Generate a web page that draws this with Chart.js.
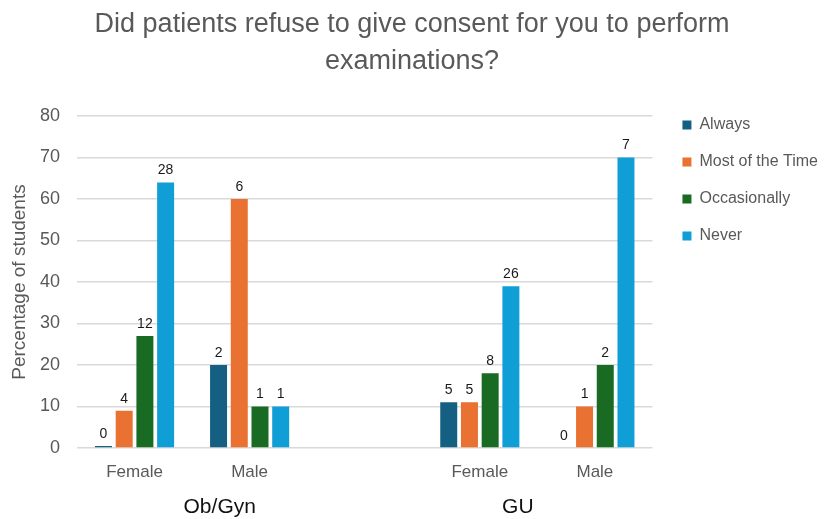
<!DOCTYPE html>
<html>
<head>
<meta charset="utf-8">
<script src="https://cdn.jsdelivr.net/npm/chart.js@4.4.1/dist/chart.umd.min.js"></script>
<style>
  html, body { margin: 0; padding: 0; background: #ffffff; }
</style>
</head>
<body>
<canvas id="consentChart" width="824" height="519"></canvas>
<script>
    const categories = ['Female', 'Male', '', 'Female', 'Male'];
    const groupNames = ['Ob/Gyn', 'GU'];
    const groupCentres = [0.74, 3.33];   // position on the category axis
    const seriesNames = ['Always', 'Most of the Time', 'Occasionally', 'Never'];
    const seriesColours = ['#156082', '#E97132', '#196B24', '#0F9ED5'];

    // percentage of students giving each answer
    const alwaysPct = [0.5, 20, null, 11, 0];
    const mostPct = [9, 60, null, 11, 10];
    const occasionallyPct = [27, 10, null, 18, 20];
    const neverPct = [64, 10, null, 39, 70];

    // number of students, printed above each bar
    const alwaysN = [0, 2, null, 5, 0];
    const mostN = [4, 6, null, 5, 1];
    const occasionallyN = [12, 1, null, 8, 2];
    const neverN = [28, 1, null, 26, 7];

    const yMin = 0, yMax = 80, yStep = 10;

    const pctSeries = [alwaysPct, mostPct, occasionallyPct, neverPct];
    const countSeries = [alwaysN, mostN, occasionallyN, neverN];

    const fontFamily = '"Liberation Sans", Arial, sans-serif';
    Chart.defaults.font.family = fontFamily;

    const countLabels = {
        id: 'countLabels',
        afterDatasetsDraw(chart) {
            const ctx = chart.ctx;
            ctx.save();
            ctx.font = '14px ' + fontFamily;
            ctx.fillStyle = '#1a1a1a';
            ctx.textAlign = 'center';
            ctx.textBaseline = 'bottom';
            chart.data.datasets.forEach((ds, di) => {
                chart.getDatasetMeta(di).data.forEach((bar, i) => {
                    const n = ds.counts[i];
                    if (n === null || n === undefined) return;
                    ctx.fillText(String(n), bar.x, bar.y - 5);
                });
            });
            ctx.restore();
        }
    };

    const groupLabels = {
        id: 'groupLabels',
        afterDraw(chart) {
            const xs = chart.scales.x;
            const ctx = chart.ctx;
            ctx.save();
            ctx.font = '21px ' + fontFamily;
            ctx.fillStyle = '#111111';
            ctx.textAlign = 'center';
            ctx.textBaseline = 'middle';
            groupNames.forEach((name, i) => {
                ctx.fillText(name, xs.getPixelForValue(groupCentres[i]), xs.top + 59);
            });
            ctx.restore();
        }
    };

    // push the legend a little right and up from where the layout leaves it
    const legendNudge = {
        id: 'legendNudge',
        afterLayout(chart) {
            const lg = chart.legend;
            lg.left += 9; lg.right += 9;
            lg.top -= 20; lg.bottom -= 20;
        }
    };

    new Chart(document.getElementById('consentChart'), {
        type: 'bar',
        data: {
            labels: categories,
            datasets: seriesNames.map((name, i) => ({
                label: name,
                data: pctSeries[i],
                counts: countSeries[i],
                backgroundColor: seriesColours[i],
                categoryPercentage: 0.72,
                barPercentage: 0.82
            }))
        },
        options: {
            responsive: false,
            animation: false,
            layout: { padding: { left: 5, right: 5, top: 0, bottom: 37 } },
            plugins: {
                title: {
                    display: true,
                    text: ['Did patients refuse to give consent for you to perform', 'examinations?'],
                    color: '#595959',
                    font: { size: 27, weight: 'normal', lineHeight: 1.37 },
                    padding: { top: 6, bottom: 36 }
                },
                legend: {
                    position: 'right',
                    align: 'start',
                    fullSize: false,
                    labels: {
                        boxWidth: 9,
                        boxHeight: 9,
                        padding: 21,
                        color: '#595959',
                        font: { size: 16 }
                    }
                },
                tooltip: { enabled: false }
            },
            scales: {
                x: {
                    grid: { display: false, drawTicks: false },
                    border: { display: false },
                    ticks: { color: '#595959', padding: 14, maxRotation: 0, font: { size: 17 } },
                    afterFit(scale) { scale.height = 34; }
                },
                y: {
                    min: yMin,
                    max: yMax,
                    grid: { color: '#d9d9d9', lineWidth: 1.4, drawTicks: false },
                    border: { display: false },
                    ticks: { stepSize: yStep, color: '#595959', padding: 17, font: { size: 18 } },
                    title: {
                        display: true,
                        text: 'Percentage of students',
                        color: '#595959',
                        font: { size: 19 },
                        padding: { top: 3, bottom: 4 }
                    },
                    afterFit(scale) { scale.width = 72; }
                }
            }
        },
        plugins: [countLabels, groupLabels, legendNudge]
    });
</script>
</body>
</html>
